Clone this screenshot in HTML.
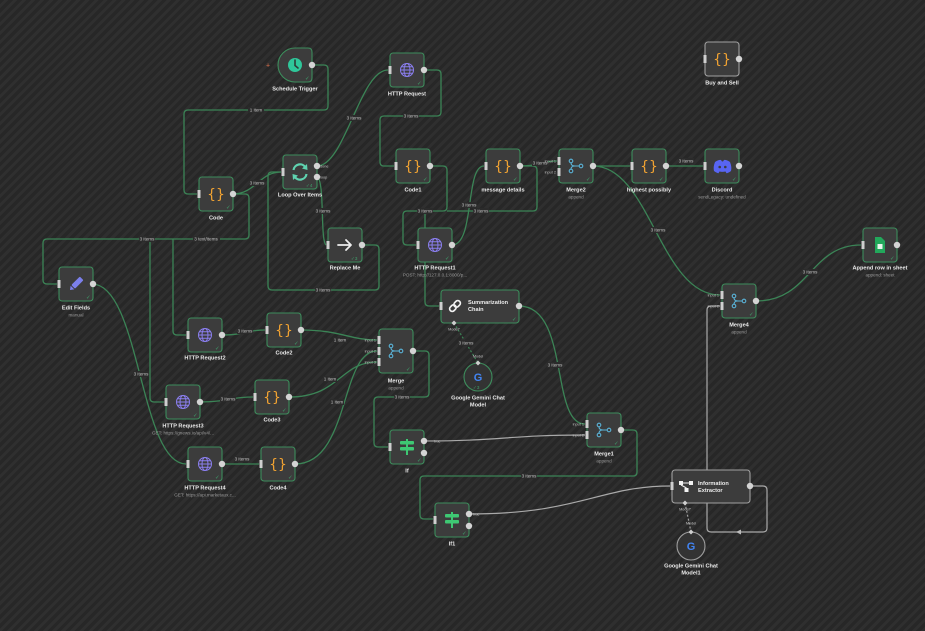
<!DOCTYPE html>
<html><head><meta charset="utf-8"><style>
html,body{margin:0;padding:0}
body{width:925px;height:631px;overflow:hidden;background:#2a2a2a repeating-linear-gradient(-45deg,#2f2f2f 0px,#2f2f2f 3px,#272727 3px,#272727 6.4px);font-family:"Liberation Sans",sans-serif}
svg{position:absolute;left:0;top:0}
.e{fill:none;stroke:#3b8456;stroke-width:1.3}
.g{fill:none;stroke:#a9a9a9;stroke-width:1.2}
.n{fill:#3c3c3c;stroke:#3d8d5c;stroke-width:1.1}
.ng{fill:#3c3c3c;stroke:#a0a0a0;stroke-width:1.1}
.lb{font-size:5.6px;font-weight:bold;fill:#ececec;text-anchor:middle}
.sb{font-size:4.6px;fill:#9a9a9a;text-anchor:middle}
.el{font-size:4.6px;fill:#c4c4c4;text-anchor:middle}
.ip{font-size:3.8px;fill:#bdbdbd;text-anchor:end}
.ck{font-size:5.5px;fill:#3fa06a}
.in{fill:#cfcfcf}
.out{fill:#d4d4d4}
.cd{font-size:14px;fill:#f0a232;text-anchor:middle;font-family:"DejaVu Sans","Liberation Sans",sans-serif}
</style></head><body>
<svg width="925" height="631" viewBox="0 0 925 631" xmlns="http://www.w3.org/2000/svg">
<!-- EDGES -->
<g>
<path class="e" d="M312,65 H324 Q328,65 328,69 V106 Q328,110 324,110 H188 Q184,110 184,114 V190 Q184,194 188,194 H197"/>
<path class="e" d="M233,194 C255,194 260,172 281,172"/>
<path class="e" d="M233,194 H245 Q249,194 249,198 V235 Q249,239 245,239 H47 Q43,239 43,243 V280 Q43,284 47,284 H57"/>
<path class="e" d="M173,239 V331 Q173,335 177,335 H186"/>
<path class="e" d="M150,239 V398 Q150,402 154,402 H164"/>
<path class="e" d="M317,166 C345,166 360,70 388,70"/>
<path class="e" d="M317,177 C325,180 320,240 326,245"/>
<path class="e" d="M362,245 H375 Q379,245 379,249 V286 Q379,290 375,290 H272 Q268,290 268,286 V176 Q268,172 272,172 H281"/>
<path class="e" d="M424,70 H437 Q441,70 441,74 V112 Q441,116 437,116 H384 Q380,116 380,120 V162 Q380,166 384,166 H394"/>
<path class="e" d="M430,166 H443 Q447,166 447,170 V207 Q447,211 443,211 H407 Q403,211 403,215 V241 Q403,245 407,245 H416"/>
<path class="e" d="M520,166 H533 Q537,166 537,170 V207 Q537,211 533,211 H447"/>
<path class="e" d="M425,211 V302 Q425,306 429,306 H439"/>
<path class="e" d="M452,245 C475,245 465,166 484,166"/>
<path class="e" d="M520,166 C540,166 540,161 557,161"/>
<path class="e" d="M593,166 H630"/>
<path class="e" d="M593,166 C650,166 660,295 720,295"/>
<path class="e" d="M666,166 H703"/>
<path class="e" d="M756,301 C810,301 810,245 861,245"/>
<path class="e" d="M519,306 C570,306 550,424 585,424"/>
<path class="e" d="M621,430 H633 Q637,430 637,434 V472 Q637,476 633,476 H424 Q420,476 420,480 V515 Q420,519 424,519 H433"/>
<path class="e" d="M413,351 H425 Q429,351 429,355 V393 Q429,397 425,397 H378 Q374,397 374,401 V443 Q374,447 378,447 H388"/>
<path class="e" d="M301,330 C340,330 350,340 377,340"/>
<path class="e" d="M289,397 C340,397 340,362 377,362"/>
<path class="e" d="M295,464 C350,464 340,351 377,351"/>
<path class="e" d="M222,335 C245,335 245,330 265,330"/>
<path class="e" d="M199,402 C228,402 228,397 253,397"/>
<path class="e" d="M222,464 H259"/>
<path class="e" d="M92,284 C140,284 140,464 186,464"/>
<path class="g" d="M424,441 C500,441 510,435 585,435"/>
<path class="g" d="M469,514 C580,514 600,486 670,486"/>
<path class="g" d="M750,486 H763 Q767,486 767,490 V528 Q767,532 763,532 H711 Q707,532 707,528 V310 Q707,306 711,306 H720"/>
<path d="M741,529.5 L736,532 L741,534.5 Z" fill="#bbb"/>
<path d="M454,323 L478,363" stroke="#3b8456" stroke-width="1.2" stroke-dasharray="2,2" fill="none"/>
<path d="M685,503 L691,532" stroke="#a0a0a0" stroke-width="1.2" stroke-dasharray="2,2" fill="none"/>
</g>
<!-- EDGE LABELS -->
<g>
<rect x="248" y="107" width="16" height="6" fill="#2b2b2b"/><text class="el" x="256" y="111.6">1 item</text>
<rect x="249" y="180" width="16" height="6" fill="#2b2b2b"/><text class="el" x="257" y="184.6">3 items</text>
<rect x="139" y="236" width="16" height="6" fill="#2b2b2b"/><text class="el" x="147" y="240.6">3 items</text>
<rect x="193" y="236" width="27" height="6" fill="#2b2b2b"/><text class="el" x="206" y="240.6">3 text/items</text>
<rect x="346" y="115" width="16" height="6" fill="#2b2b2b"/><text class="el" x="354" y="119.6">3 items</text>
<rect x="315" y="208" width="16" height="6" fill="#2b2b2b"/><text class="el" x="323" y="212.6">3 items</text>
<rect x="315" y="287" width="16" height="6" fill="#2b2b2b"/><text class="el" x="323" y="291.6">3 items</text>
<rect x="403" y="113" width="16" height="6" fill="#2b2b2b"/><text class="el" x="411" y="117.6">3 items</text>
<rect x="417" y="208" width="16" height="6" fill="#2b2b2b"/><text class="el" x="425" y="212.6">3 items</text>
<rect x="473" y="208" width="16" height="6" fill="#2b2b2b"/><text class="el" x="481" y="212.6">3 items</text>
<rect x="461" y="202" width="16" height="6" fill="#2b2b2b"/><text class="el" x="469" y="206.6">3 items</text>
<rect x="532" y="160" width="16" height="6" fill="#2b2b2b"/><text class="el" x="540" y="164.6">3 items</text>
<rect x="650" y="227" width="16" height="6" fill="#2b2b2b"/><text class="el" x="658" y="231.6">3 items</text>
<rect x="678" y="158" width="16" height="6" fill="#2b2b2b"/><text class="el" x="686" y="162.6">3 items</text>
<rect x="802" y="269" width="16" height="6" fill="#2b2b2b"/><text class="el" x="810" y="273.6">3 items</text>
<rect x="547" y="362" width="16" height="6" fill="#2b2b2b"/><text class="el" x="555" y="366.6">3 items</text>
<rect x="521" y="473" width="16" height="6" fill="#2b2b2b"/><text class="el" x="529" y="477.6">3 items</text>
<rect x="394" y="394" width="16" height="6" fill="#2b2b2b"/><text class="el" x="402" y="398.6">3 items</text>
<rect x="333" y="337" width="14" height="6" fill="#2b2b2b"/><text class="el" x="340" y="341.6">1 item</text>
<rect x="323" y="376" width="14" height="6" fill="#2b2b2b"/><text class="el" x="330" y="380.6">1 item</text>
<rect x="330" y="399" width="14" height="6" fill="#2b2b2b"/><text class="el" x="337" y="403.6">1 item</text>
<rect x="237" y="328" width="16" height="6" fill="#2b2b2b"/><text class="el" x="245" y="332.6">3 items</text>
<rect x="220" y="396" width="16" height="6" fill="#2b2b2b"/><text class="el" x="228" y="400.6">3 items</text>
<rect x="234" y="456" width="16" height="6" fill="#2b2b2b"/><text class="el" x="242" y="460.6">3 items</text>
<rect x="133" y="371" width="16" height="6" fill="#2b2b2b"/><text class="el" x="141" y="375.6">3 items</text>
<rect x="458" y="340" width="16" height="6" fill="#2b2b2b"/><text class="el" x="466" y="344.6">3 items</text>
<text class="el" x="454" y="330.5" style="font-size:3.8px">Model*</text>
<text class="el" x="478" y="357.5" style="font-size:3.8px">Model</text>
<text class="el" x="685" y="510.5" style="font-size:3.8px">Model*</text>
<text class="el" x="691" y="524.5" style="font-size:3.8px">Model</text>
<text class="el" x="434" y="442.5" style="font-size:3.8px;text-anchor:start">true</text>
<text class="el" x="473" y="515.5" style="font-size:3.8px;text-anchor:start">true</text>
<text class="el" x="320" y="167.5" style="font-size:3.8px;text-anchor:start">done</text>
<text class="el" x="320" y="178.5" style="font-size:3.8px;text-anchor:start">loop</text>
</g>
<!-- NODES -->
<g>
<!-- Schedule Trigger -->
<path class="n" d="M295,48 H308 Q312,48 312,52 V78 Q312,82 308,82 H295 A17,17 0 0 1 278,65 A17,17 0 0 1 295,48 Z"/>
<circle cx="295" cy="65" r="7" fill="#2fc79a"/>
<path d="M295,60 V65.5 L298,68" stroke="#2e3a36" stroke-width="1.6" fill="none" stroke-linecap="round"/>
<circle class="out" cx="312" cy="65" r="3.2"/>
<text x="266" y="67.5" style="font-size:7px;fill:#e0704a">+</text>
<text class="ck" x="305" y="80">✓</text>
<text class="lb" x="295" y="90.5">Schedule Trigger</text>

<!-- Code -->
<rect class="n" x="199" y="177" width="34" height="34" rx="3"/>
<text class="cd" x="216" y="199">{}</text>
<rect class="in" x="197.5" y="190" width="3" height="8"/><circle class="out" cx="233" cy="194" r="3.2"/>
<text class="ck" x="226" y="209">✓</text>
<text class="lb" x="216" y="219.5">Code</text>

<!-- Loop Over Items -->
<rect class="n" x="283" y="155" width="34" height="34" rx="3"/>
<path d="M293.5,170 A6.5,6.5 0 0 1 305.5,167.5" stroke="#5fd3b0" stroke-width="2.2" fill="none"/>
<path d="M307,164 L307.5,170 L302,168.5 Z" fill="#5fd3b0"/>
<path d="M306.5,174 A6.5,6.5 0 0 1 294.5,176.5" stroke="#5fd3b0" stroke-width="2.2" fill="none"/>
<path d="M293,180 L292.5,174 L298,175.5 Z" fill="#5fd3b0"/>
<rect class="in" x="281.5" y="168" width="3" height="8"/>
<circle class="out" cx="317" cy="166" r="3.2"/><circle class="out" cx="317" cy="177" r="3.2"/>
<text class="ck" x="306" y="187" style="font-size:4.6px">✓4</text>
<text class="lb" x="300" y="196.5">Loop Over Items</text>

<!-- HTTP Request -->
<rect class="n" x="390" y="53" width="34" height="34" rx="3"/>
<g transform="translate(407,70)" stroke="#8b7ff0" stroke-width="1" fill="none"><circle r="6.5"/><ellipse rx="3" ry="6.5"/><path d="M-6.5,0 H6.5 M-5.6,-3.2 H5.6 M-5.6,3.2 H5.6"/></g>
<rect class="in" x="388.5" y="66" width="3" height="8"/><circle class="out" cx="424" cy="70" r="3.2"/>
<text class="ck" x="417" y="85">✓</text>
<text class="lb" x="407" y="95.5">HTTP Request</text>

<!-- Code1 -->
<rect class="n" x="396" y="149" width="34" height="34" rx="3"/>
<text class="cd" x="413" y="171">{}</text>
<rect class="in" x="394.5" y="162" width="3" height="8"/><circle class="out" cx="430" cy="166" r="3.2"/>
<text class="ck" x="423" y="181">✓</text>
<text class="lb" x="413" y="191.5">Code1</text>

<!-- message details -->
<rect class="n" x="486" y="149" width="34" height="34" rx="3"/>
<text class="cd" x="503" y="171">{}</text>
<rect class="in" x="484.5" y="162" width="3" height="8"/><circle class="out" cx="520" cy="166" r="3.2"/>
<text class="ck" x="513" y="181">✓</text>
<text class="lb" x="503" y="191.5">message details</text>

<!-- Merge2 -->
<rect class="n" x="559" y="149" width="34" height="34" rx="3"/>
<g transform="translate(576,166)" stroke="#5ab3d8" stroke-width="1.1" fill="none"><circle cx="-5" cy="-5" r="1.8"/><circle cx="-5" cy="5" r="1.8"/><circle cx="5" cy="0" r="1.8"/><path d="M-5,-3.2 Q-5,0 -1,0 H3.2 M-5,3.2 Q-5,0 -1,0"/></g>
<rect class="in" x="557.5" y="157" width="3" height="8"/><rect class="in" x="557.5" y="168" width="3" height="8"/>
<circle class="out" cx="593" cy="166" r="3.2"/>
<text class="ip" x="556" y="162.5">input 1</text><text class="ip" x="556" y="173.5">input 2</text>
<text class="ck" x="586" y="181">✓</text>
<text class="lb" x="576" y="191.5">Merge2</text><text class="sb" x="576" y="198.5">append</text>

<!-- highest possibly -->
<rect class="n" x="632" y="149" width="34" height="34" rx="3"/>
<text class="cd" x="649" y="171">{}</text>
<rect class="in" x="630.5" y="162" width="3" height="8"/><circle class="out" cx="666" cy="166" r="3.2"/>
<text class="ck" x="659" y="181">✓</text>
<text class="lb" x="649" y="191.5">highest possibly</text>

<!-- Discord -->
<rect class="n" x="705" y="149" width="34" height="34" rx="3"/>
<path d="M715,162 Q719,159.5 721,160 L722,161.5 Q722,161.3 723,161.5 L724,160 Q726,159.5 730,162 Q732,167 731,171 Q728.5,173 726.5,173.2 L725.5,171.5 Q722,172.3 719.5,171.5 L718.5,173.2 Q716.5,173 714,171 Q713,167 715,162 Z" fill="#5865f2"/>
<circle cx="719.7" cy="167" r="1.3" fill="#3c3c3c"/><circle cx="725.3" cy="167" r="1.3" fill="#3c3c3c"/>
<rect class="in" x="703.5" y="162" width="3" height="8"/><circle class="out" cx="739" cy="166" r="3.2"/>
<text class="ck" x="732" y="181">✓</text>
<text class="lb" x="722" y="191.5">Discord</text><text class="sb" x="722" y="198.5">sendLegacy: undefined</text>

<!-- Buy and Sell -->
<rect class="ng" x="705" y="42" width="34" height="34" rx="3"/>
<text class="cd" x="722" y="64">{}</text>
<rect class="in" x="703.5" y="55" width="3" height="8"/><circle class="out" cx="739" cy="59" r="3.2"/>
<text class="lb" x="722" y="84.5">Buy and Sell</text>

<!-- Edit Fields -->
<rect class="n" x="59" y="267" width="34" height="34" rx="3"/>
<g transform="translate(76,284) rotate(45)"><rect x="-2.6" y="-8" width="5.2" height="12" rx="1" fill="#7c80ec"/><path d="M-2.6,5 L2.6,5 L0,8.5 Z" fill="#7c80ec"/></g>
<rect class="in" x="57.5" y="280" width="3" height="8"/><circle class="out" cx="93" cy="284" r="3.2"/>
<text class="ck" x="86" y="299">✓</text>
<text class="lb" x="76" y="309.5">Edit Fields</text><text class="sb" x="76" y="316.5">manual</text>

<!-- HTTP Request2 -->
<rect class="n" x="188" y="318" width="34" height="34" rx="3"/>
<g transform="translate(205,335)" stroke="#8b7ff0" stroke-width="1" fill="none"><circle r="6.5"/><ellipse rx="3" ry="6.5"/><path d="M-6.5,0 H6.5 M-5.6,-3.2 H5.6 M-5.6,3.2 H5.6"/></g>
<rect class="in" x="186.5" y="331" width="3" height="8"/><circle class="out" cx="222" cy="335" r="3.2"/>
<text class="ck" x="215" y="350">✓</text>
<text class="lb" x="205" y="359.5">HTTP Request2</text>

<!-- Code2 -->
<rect class="n" x="267" y="313" width="34" height="34" rx="3"/>
<text class="cd" x="284" y="335">{}</text>
<rect class="in" x="265.5" y="326" width="3" height="8"/><circle class="out" cx="301" cy="330" r="3.2"/>
<text class="ck" x="294" y="345">✓</text>
<text class="lb" x="284" y="354.5">Code2</text>

<!-- HTTP Request3 -->
<rect class="n" x="166" y="385" width="34" height="34" rx="3"/>
<g transform="translate(183,402)" stroke="#8b7ff0" stroke-width="1" fill="none"><circle r="6.5"/><ellipse rx="3" ry="6.5"/><path d="M-6.5,0 H6.5 M-5.6,-3.2 H5.6 M-5.6,3.2 H5.6"/></g>
<rect class="in" x="164.5" y="398" width="3" height="8"/><circle class="out" cx="200" cy="402" r="3.2"/>
<text class="ck" x="193" y="417">✓</text>
<text class="lb" x="183" y="427.5">HTTP Request3</text><text class="sb" x="183" y="434.5">GET: https://gnews.io/api/v4/...</text>

<!-- Code3 -->
<rect class="n" x="255" y="380" width="34" height="34" rx="3"/>
<text class="cd" x="272" y="402">{}</text>
<rect class="in" x="253.5" y="393" width="3" height="8"/><circle class="out" cx="289" cy="397" r="3.2"/>
<text class="ck" x="282" y="412">✓</text>
<text class="lb" x="272" y="421.5">Code3</text>

<!-- HTTP Request4 -->
<rect class="n" x="188" y="447" width="34" height="34" rx="3"/>
<g transform="translate(205,464)" stroke="#8b7ff0" stroke-width="1" fill="none"><circle r="6.5"/><ellipse rx="3" ry="6.5"/><path d="M-6.5,0 H6.5 M-5.6,-3.2 H5.6 M-5.6,3.2 H5.6"/></g>
<rect class="in" x="186.5" y="460" width="3" height="8"/><circle class="out" cx="222" cy="464" r="3.2"/>
<text class="ck" x="215" y="479">✓</text>
<text class="lb" x="205" y="489.5">HTTP Request4</text><text class="sb" x="205" y="496.5">GET: https://api.marketaux.c...</text>

<!-- Code4 -->
<rect class="n" x="261" y="447" width="34" height="34" rx="3"/>
<text class="cd" x="278" y="469">{}</text>
<rect class="in" x="259.5" y="460" width="3" height="8"/><circle class="out" cx="295" cy="464" r="3.2"/>
<text class="ck" x="288" y="479">✓</text>
<text class="lb" x="278" y="489.5">Code4</text>

<!-- Replace Me -->
<rect class="n" x="328" y="228" width="34" height="34" rx="3"/>
<path d="M338,245 H351 M346,240 L351,245 L346,250" stroke="#eeeeee" stroke-width="1.8" fill="none" stroke-linecap="round" stroke-linejoin="round"/>
<rect class="in" x="326.5" y="241" width="3" height="8"/><circle class="out" cx="362" cy="245" r="3.2"/>
<text class="ck" x="351" y="260" style="font-size:4.6px">✓3</text>
<text class="lb" x="345" y="269.5">Replace Me</text>

<!-- HTTP Request1 -->
<rect class="n" x="418" y="228" width="34" height="34" rx="3"/>
<g transform="translate(435,245)" stroke="#8b7ff0" stroke-width="1" fill="none"><circle r="6.5"/><ellipse rx="3" ry="6.5"/><path d="M-6.5,0 H6.5 M-5.6,-3.2 H5.6 M-5.6,3.2 H5.6"/></g>
<rect class="in" x="416.5" y="241" width="3" height="8"/><circle class="out" cx="452" cy="245" r="3.2"/>
<text class="ck" x="445" y="260">✓</text>
<text class="lb" x="435" y="269.5">HTTP Request1</text><text class="sb" x="435" y="276.5">POST: http://127.0.0.1:8000/p...</text>

<!-- Summarization Chain -->
<rect class="n" x="441" y="290" width="78" height="33" rx="3"/>
<g transform="translate(455,306) rotate(-45)" stroke="#f2f2f2" stroke-width="1.7" fill="none"><rect x="-6.5" y="-2.6" width="7" height="5.2" rx="2.6"/><rect x="-0.5" y="-2.6" width="7" height="5.2" rx="2.6"/></g>
<text x="468" y="304" style="font-size:5.6px;font-weight:bold;fill:#ececec">Summarization</text>
<text x="468" y="311" style="font-size:5.6px;font-weight:bold;fill:#ececec">Chain</text>
<rect class="in" x="439.5" y="302" width="3" height="8"/><circle class="out" cx="519" cy="306" r="3.2"/>
<path d="M454,320.5 L456.5,323 L454,325.5 L451.5,323 Z" fill="#cfcfcf"/>
<text class="ck" x="512" y="321">✓</text>

<!-- Google Gemini Chat Model -->
<circle cx="478" cy="377" r="14" fill="#333" stroke="#3d8d5c" stroke-width="1.1"/>
<text x="478" y="381" style="font-size:11px;font-weight:bold;fill:#4285f4;text-anchor:middle">G</text>
<path d="M478,360.5 L480.5,363 L478,365.5 L475.5,363 Z" fill="#cfcfcf"/>
<text class="ck" x="473" y="389" style="font-size:4.6px">✓3</text>
<text class="lb" x="478" y="399.5">Google Gemini Chat</text><text class="lb" x="478" y="406.5">Model</text>

<!-- Merge -->
<rect class="n" x="379" y="329" width="34" height="44" rx="3"/>
<g transform="translate(396,351)" stroke="#5ab3d8" stroke-width="1.1" fill="none"><circle cx="-5" cy="-5" r="1.8"/><circle cx="-5" cy="5" r="1.8"/><circle cx="5" cy="0" r="1.8"/><path d="M-5,-3.2 Q-5,0 -1,0 H3.2 M-5,3.2 Q-5,0 -1,0"/></g>
<rect class="in" x="377.5" y="336" width="3" height="8"/><rect class="in" x="377.5" y="347" width="3" height="8"/><rect class="in" x="377.5" y="358" width="3" height="8"/>
<text class="ip" x="376" y="341.5">input 1</text><text class="ip" x="376" y="352.5">input 2</text><text class="ip" x="376" y="363.5">input 3</text>
<circle class="out" cx="413" cy="351" r="3.2"/>
<text class="ck" x="406" y="371">✓</text>
<text class="lb" x="396" y="382.5">Merge</text><text class="sb" x="396" y="389.5">append</text>

<!-- Merge1 -->
<rect class="n" x="587" y="413" width="34" height="34" rx="3"/>
<g transform="translate(604,430)" stroke="#5ab3d8" stroke-width="1.1" fill="none"><circle cx="-5" cy="-5" r="1.8"/><circle cx="-5" cy="5" r="1.8"/><circle cx="5" cy="0" r="1.8"/><path d="M-5,-3.2 Q-5,0 -1,0 H3.2 M-5,3.2 Q-5,0 -1,0"/></g>
<rect class="in" x="585.5" y="420" width="3" height="8"/><rect class="in" x="585.5" y="431" width="3" height="8"/>
<text class="ip" x="584" y="425.5">input 1</text><text class="ip" x="584" y="436.5">input 2</text>
<circle class="out" cx="621" cy="430" r="3.2"/>
<text class="ck" x="614" y="445">✓</text>
<text class="lb" x="604" y="455.5">Merge1</text><text class="sb" x="604" y="462.5">append</text>

<!-- Merge4 -->
<rect class="n" x="722" y="284" width="34" height="34" rx="3"/>
<g transform="translate(739,301)" stroke="#5ab3d8" stroke-width="1.1" fill="none"><circle cx="-5" cy="-5" r="1.8"/><circle cx="-5" cy="5" r="1.8"/><circle cx="5" cy="0" r="1.8"/><path d="M-5,-3.2 Q-5,0 -1,0 H3.2 M-5,3.2 Q-5,0 -1,0"/></g>
<rect class="in" x="720.5" y="291" width="3" height="8"/><rect class="in" x="720.5" y="302" width="3" height="8"/>
<text class="ip" x="719" y="296.5">input 1</text><text class="ip" x="719" y="307.5">input 2</text>
<circle class="out" cx="756" cy="301" r="3.2"/>
<text class="ck" x="749" y="316">✓</text>
<text class="lb" x="739" y="326.5">Merge4</text><text class="sb" x="739" y="333.5">append</text>

<!-- Append row in sheet -->
<rect class="n" x="863" y="228" width="34" height="34" rx="3"/>
<path d="M875,237 H881 L885,241 V253 H875 Z" fill="#22a85b"/>
<rect x="877.5" y="244" width="5" height="5" fill="#e8f5ec"/>
<rect class="in" x="861.5" y="241" width="3" height="8"/><circle class="out" cx="897" cy="245" r="3.2"/>
<text class="ck" x="890" y="260">✓</text>
<text class="lb" x="880" y="269.5">Append row in sheet</text><text class="sb" x="880" y="276.5">append: sheet</text>

<!-- If -->
<rect class="n" x="390" y="430" width="34" height="34" rx="3"/>
<g fill="#3ec873"><rect x="406" y="439" width="2" height="16"/><rect x="400" y="441" width="14" height="3.5" rx="1"/><rect x="400" y="447" width="14" height="3.5" rx="1"/></g>
<rect class="in" x="388.5" y="443" width="3" height="8"/>
<circle class="out" cx="424" cy="441" r="3.2"/><circle class="out" cx="424" cy="453" r="3.2"/>
<text class="ck" x="417" y="462">✓</text>
<text class="lb" x="407" y="472.5">If</text>

<!-- If1 -->
<rect class="n" x="435" y="503" width="34" height="34" rx="3"/>
<g fill="#3ec873"><rect x="451" y="512" width="2" height="16"/><rect x="445" y="514" width="14" height="3.5" rx="1"/><rect x="445" y="520" width="14" height="3.5" rx="1"/></g>
<rect class="in" x="433.5" y="516" width="3" height="8"/>
<circle class="out" cx="469" cy="514" r="3.2"/><circle class="out" cx="469" cy="526" r="3.2"/>
<text class="ck" x="462" y="535">✓</text>
<text class="lb" x="452" y="545.5">If1</text>

<!-- Information Extractor -->
<rect class="ng" x="672" y="470" width="78" height="33" rx="3"/>
<g fill="#f2f2f2"><rect x="679" y="481" width="4" height="4"/><rect x="689" y="481" width="4" height="4"/><rect x="684.5" y="488" width="4" height="4"/></g>
<path d="M683,483 H689 M681,485 L686.5,488" stroke="#f2f2f2" stroke-width="1"/>
<text x="698" y="485" style="font-size:5.6px;font-weight:bold;fill:#ececec">Information</text>
<text x="698" y="492" style="font-size:5.6px;font-weight:bold;fill:#ececec">Extractor</text>
<rect class="in" x="670.5" y="482" width="3" height="8"/><circle class="out" cx="750" cy="486" r="3.2"/>
<path d="M685,500.5 L687.5,503 L685,505.5 L682.5,503 Z" fill="#cfcfcf"/>

<!-- Google Gemini Chat Model1 -->
<circle cx="691" cy="546" r="14" fill="#333" stroke="#a0a0a0" stroke-width="1.1"/>
<text x="691" y="550" style="font-size:11px;font-weight:bold;fill:#4285f4;text-anchor:middle">G</text>
<path d="M691,529.5 L693.5,532 L691,534.5 L688.5,532 Z" fill="#cfcfcf"/>
<text class="lb" x="691" y="567.5">Google Gemini Chat</text><text class="lb" x="691" y="574.5">Model1</text>
</g>
</svg>
</body></html>
